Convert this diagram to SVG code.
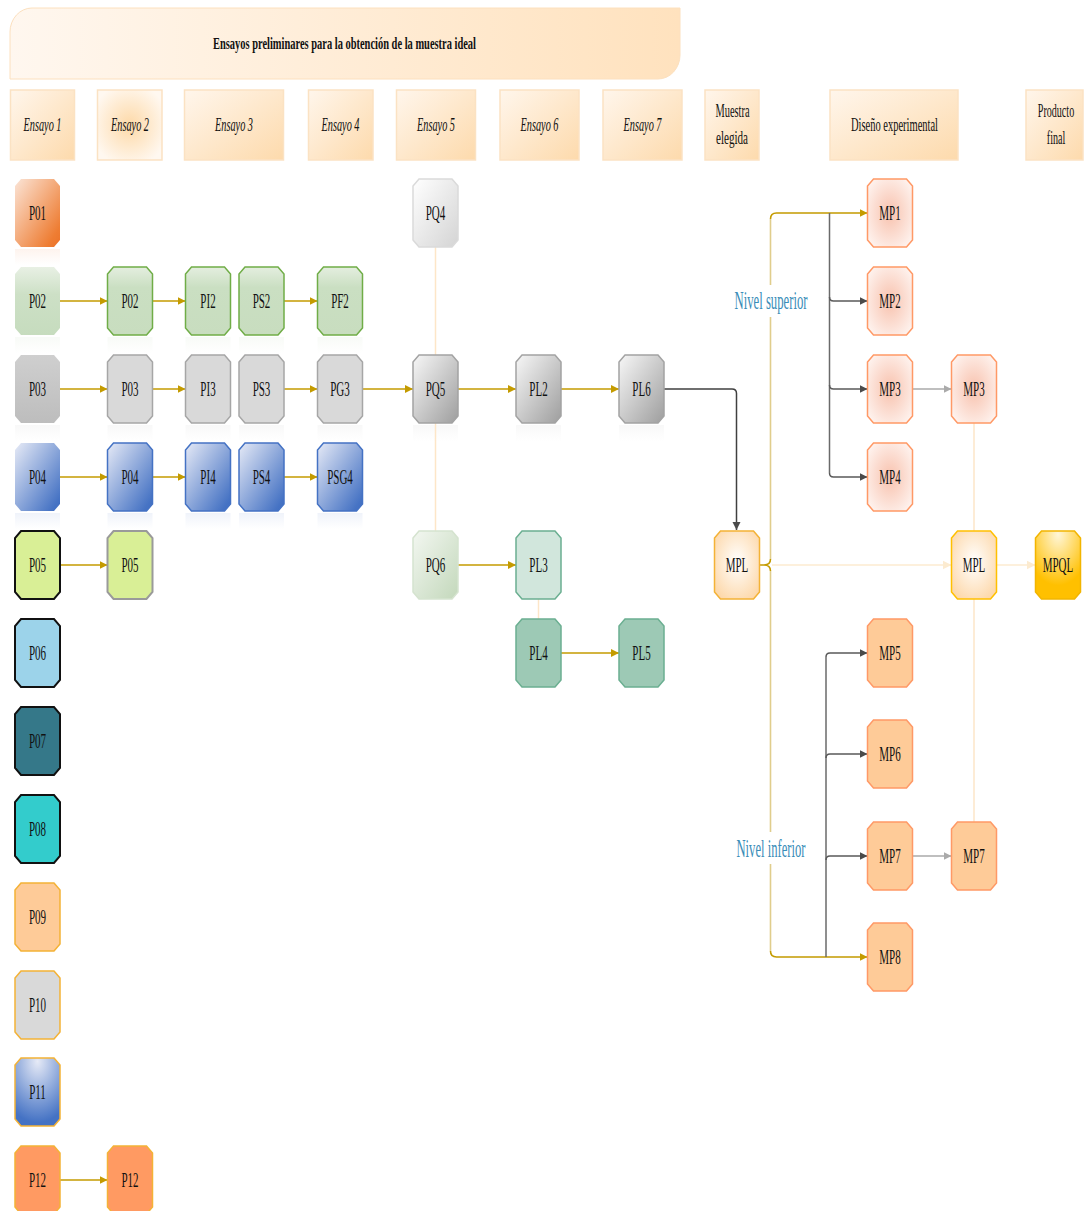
<svg xmlns="http://www.w3.org/2000/svg" xmlns:xlink="http://www.w3.org/1999/xlink" width="1084" height="1211" viewBox="0 0 1084 1211">
<defs>
<style>
.t{font-family:"Liberation Serif","Times New Roman",serif;font-size:20px;fill:#111;text-anchor:middle}
.h{font-family:"Liberation Serif","Times New Roman",serif;font-size:19px;fill:#111;text-anchor:middle}
.hi{font-style:italic}
.title{font-family:"Liberation Serif","Times New Roman",serif;font-size:17px;font-weight:bold;fill:#111;text-anchor:middle}
.lvl{font-family:"Liberation Serif","Times New Roman",serif;font-size:25px;fill:#3A8DB8;text-anchor:middle}
.hbox{fill:url(#gHead);stroke:#FBE2C3;stroke-width:1.5}
.hbox2{fill:url(#gHeadR);stroke:#FBE2C3;stroke-width:1.5}
.gold{fill:none;stroke:#C49B00;stroke-width:1.6;marker-end:url(#aGold)}
.goldn{fill:none;stroke:#C49B00;stroke-width:1.6}
.goldl{fill:none;stroke:#E0CD8C;stroke-width:1.6}
.dark{fill:none;stroke:#5A5A5A;stroke-width:1.5;marker-end:url(#aDark)}
.darkn{fill:none;stroke:#6A6A6A;stroke-width:1.5}
.lgray{fill:none;stroke:#AAAAAA;stroke-width:1.6;marker-end:url(#aGray)}
.faint{fill:none;stroke:#FDE6C8;stroke-width:1.5}
.faintA{fill:none;stroke:#FDF0DC;stroke-width:2;marker-end:url(#aFaint)}
.c-p01{fill:url(#gP01);stroke:none}
.c-p02a{fill:url(#gP02a);stroke:none}
.c-grn{fill:url(#gGrn);stroke:#70AD47;stroke-width:1.5}
.c-p03a{fill:url(#gP03a);stroke:none}
.c-gry{fill:#D9D9D9;stroke:#A6A6A6;stroke-width:1.5}
.c-blua{fill:url(#gBlue);stroke:none}
.c-blu{fill:url(#gBlue);stroke:#4472C4;stroke-width:1.5}
.c-p05a{fill:#D9EF96;stroke:#111;stroke-width:2}
.c-p05b{fill:#D9EF96;stroke:#9A9A9A;stroke-width:2}
.c-p06{fill:#9CD3EA;stroke:#111;stroke-width:2}
.c-p07{fill:#357889;stroke:#111;stroke-width:2}
.c-p08{fill:#33CCCC;stroke:#111;stroke-width:2}
.c-p09{fill:#FECB98;stroke:#F4B236;stroke-width:1.5}
.c-p10{fill:#D9D9D9;stroke:#F4B236;stroke-width:1.5}
.c-p11{fill:url(#gP11);stroke:#F4B236;stroke-width:1.5}
.c-p12{fill:#FF9A62;stroke:#F4B236;stroke-width:1.5}
.c-pq4{fill:url(#gPQ4);stroke:#DADADA;stroke-width:1.5}
.c-slv{fill:url(#gSlv);stroke:#A3A3A3;stroke-width:1.5}
.c-pq6{fill:url(#gPQ6);stroke:#D5E3CF;stroke-width:1.5}
.c-pl3{fill:#D1E6DC;stroke:#6BAF91;stroke-width:1.5}
.c-pl4{fill:#9DC9B5;stroke:#6BAF91;stroke-width:1.5}
.c-pink{fill:url(#gPink);stroke:#FF9966;stroke-width:1.5}
.c-mpl{fill:url(#gMPL);stroke:#F4B236;stroke-width:1.5}
.c-mpl2{fill:url(#gMPL);stroke:#FFC000;stroke-width:1.5}
.c-mpql{fill:url(#gMPQL);stroke:#F2B500;stroke-width:1.5}
.c-peach{fill:#FECB98;stroke:#FF9966;stroke-width:1.5}
</style>
<polygon id="oct" points="-16.5,-34 16.5,-34 22.5,-27 22.5,27 16.5,34 -16.5,34 -22.5,27 -22.5,-27"/>
<rect id="refl" x="-22.5" y="36" width="45" height="16"/>
<marker id="aGold" viewBox="0 0 10 10" refX="10" refY="5" markerWidth="8" markerHeight="9" markerUnits="userSpaceOnUse" orient="auto"><path d="M0,0 L10,5 L0,10 z" fill="#C49B00"/></marker>
<marker id="aDark" viewBox="0 0 10 10" refX="10" refY="5" markerWidth="8" markerHeight="9" markerUnits="userSpaceOnUse" orient="auto"><path d="M0,0 L10,5 L0,10 z" fill="#4A4A4A"/></marker>
<marker id="aGray" viewBox="0 0 10 10" refX="10" refY="5" markerWidth="8" markerHeight="9" markerUnits="userSpaceOnUse" orient="auto"><path d="M0,0 L10,5 L0,10 z" fill="#AAAAAA"/></marker>
<marker id="aFaint" viewBox="0 0 10 10" refX="10" refY="5" markerWidth="9" markerHeight="10" markerUnits="userSpaceOnUse" orient="auto"><path d="M0,0 L10,5 L0,10 z" fill="#FCEBD0"/></marker>
<linearGradient id="gBanner" x1="0" y1="0" x2="1" y2="0"><stop offset="0" stop-color="#FFF7EF"/><stop offset="1" stop-color="#FFE2BE"/></linearGradient>
<linearGradient id="gHead" x1="0" y1="0" x2="1" y2="1"><stop offset="0" stop-color="#FFF6EC"/><stop offset="1" stop-color="#FDDAAC"/></linearGradient>
<radialGradient id="gHeadR" cx="0.5" cy="0.5" r="0.6"><stop offset="0" stop-color="#FDD9A8"/><stop offset="1" stop-color="#FFF8F0"/></radialGradient>
<linearGradient id="gP01" x1="0" y1="0" x2="1" y2="1"><stop offset="0" stop-color="#FBE4D6"/><stop offset="0.85" stop-color="#EE7D33"/><stop offset="1" stop-color="#EC7228"/></linearGradient>
<linearGradient id="gP02a" x1="0" y1="0" x2="0" y2="1"><stop offset="0" stop-color="#E8F0E4"/><stop offset="0.4" stop-color="#CDE0C6"/><stop offset="1" stop-color="#C6DCBE"/></linearGradient>
<linearGradient id="gGrn" x1="0" y1="0" x2="0" y2="1"><stop offset="0" stop-color="#E4EEDF"/><stop offset="0.3" stop-color="#CADFC2"/><stop offset="1" stop-color="#C8DDBF"/></linearGradient>
<linearGradient id="gP03a" x1="0" y1="0" x2="0" y2="1"><stop offset="0" stop-color="#CFCFCF"/><stop offset="1" stop-color="#BDBDBD"/></linearGradient>
<linearGradient id="gBlue" x1="0" y1="0" x2="1" y2="1"><stop offset="0" stop-color="#E6EAF6"/><stop offset="0.9" stop-color="#4673C4"/><stop offset="1" stop-color="#3F6CC0"/></linearGradient>
<radialGradient id="gP11" cx="0.5" cy="0.05" r="1"><stop offset="0" stop-color="#E6EAF6"/><stop offset="0.9" stop-color="#4472C4"/></radialGradient>
<linearGradient id="gPQ4" x1="0" y1="0" x2="1" y2="1"><stop offset="0" stop-color="#FFFFFF"/><stop offset="1" stop-color="#D4D4D4"/></linearGradient>
<linearGradient id="gSlv" x1="0" y1="0" x2="1" y2="1"><stop offset="0" stop-color="#F7F7F7"/><stop offset="1" stop-color="#9E9E9E"/></linearGradient>
<linearGradient id="gPQ6" x1="0" y1="0" x2="1" y2="1"><stop offset="0" stop-color="#F3F7F1"/><stop offset="1" stop-color="#C3D8BB"/></linearGradient>
<radialGradient id="gPink" cx="0.5" cy="0.5" r="0.6"><stop offset="0" stop-color="#F8C2AE"/><stop offset="1" stop-color="#FEF1EC"/></radialGradient>
<radialGradient id="gMPL" cx="0.5" cy="0.45" r="0.65"><stop offset="0" stop-color="#FFFFFF"/><stop offset="1" stop-color="#FDD7A8"/></radialGradient>
<radialGradient id="gMPQL" cx="0.5" cy="0.05" r="1"><stop offset="0" stop-color="#FFF6D8"/><stop offset="0.75" stop-color="#FFC000"/></radialGradient>
<linearGradient id="rOr" x1="0" y1="0" x2="0" y2="1"><stop offset="0" stop-color="#F2A070" stop-opacity="0.12"/><stop offset="1" stop-color="#F2A070" stop-opacity="0"/></linearGradient>
<linearGradient id="rGr" x1="0" y1="0" x2="0" y2="1"><stop offset="0" stop-color="#A8C89C" stop-opacity="0.08"/><stop offset="1" stop-color="#A8C89C" stop-opacity="0"/></linearGradient>
<linearGradient id="rGy" x1="0" y1="0" x2="0" y2="1"><stop offset="0" stop-color="#AAAAAA" stop-opacity="0.08"/><stop offset="1" stop-color="#AAAAAA" stop-opacity="0"/></linearGradient>
<linearGradient id="rBl" x1="0" y1="0" x2="0" y2="1"><stop offset="0" stop-color="#7E9BD6" stop-opacity="0.12"/><stop offset="1" stop-color="#7E9BD6" stop-opacity="0"/></linearGradient>
</defs>
<rect width="1084" height="1211" fill="#FFFFFF"/>

<g id="header">
<path d="M10,32 A22,24 0 0 1 32,8 H680 V55 A22,24 0 0 1 658,79 H10 Z" fill="url(#gBanner)" stroke="#FCE0BE" stroke-width="1"/>
<text class="title" x="344.5" y="49" textLength="263" lengthAdjust="spacingAndGlyphs">Ensayos preliminares para la obtención de la muestra ideal</text>
</g>

<g id="col-headers">
<g id="h_e1"><rect class="hbox" x="10.5" y="90" width="64" height="70"/><text class="h hi" x="42.5" y="131" textLength="38" lengthAdjust="spacingAndGlyphs">Ensayo 1</text></g>
<g id="h_e2"><rect class="hbox2" x="97.5" y="90" width="64.5" height="70"/><text class="h hi" x="130" y="131" textLength="38" lengthAdjust="spacingAndGlyphs">Ensayo 2</text></g>
<g id="h_e3"><rect class="hbox" x="184.5" y="90" width="99" height="70"/><text class="h hi" x="234" y="131" textLength="38" lengthAdjust="spacingAndGlyphs">Ensayo 3</text></g>
<g id="h_e4"><rect class="hbox" x="308.5" y="90" width="64.5" height="70"/><text class="h hi" x="340.5" y="131" textLength="38" lengthAdjust="spacingAndGlyphs">Ensayo 4</text></g>
<g id="h_e5"><rect class="hbox" x="396.5" y="90" width="79" height="70"/><text class="h hi" x="436" y="131" textLength="38" lengthAdjust="spacingAndGlyphs">Ensayo 5</text></g>
<g id="h_e6"><rect class="hbox" x="500" y="90" width="79" height="70"/><text class="h hi" x="539.5" y="131" textLength="38" lengthAdjust="spacingAndGlyphs">Ensayo 6</text></g>
<g id="h_e7"><rect class="hbox" x="603" y="90" width="79" height="70"/><text class="h hi" x="642.5" y="131" textLength="38" lengthAdjust="spacingAndGlyphs">Ensayo 7</text></g>
<g id="h_me"><rect class="hbox" x="705" y="90" width="54" height="70"/><text class="h" x="732.5" y="117" textLength="34" lengthAdjust="spacingAndGlyphs">Muestra</text><text class="h" x="732" y="144" textLength="32" lengthAdjust="spacingAndGlyphs">elegida</text></g>
<g id="h_de"><rect class="hbox" x="830" y="90" width="128" height="70"/><text class="h" x="894.5" y="131" textLength="87" lengthAdjust="spacingAndGlyphs">Diseño experimental</text></g>
<g id="h_pf"><rect class="hbox" x="1026" y="90" width="57" height="70"/><text class="h" transform="translate(1056,117) scale(0.53,1)">Producto</text><text class="h" transform="translate(1056,144) scale(0.53,1)">final</text></g>
</g>

<g id="reflections">
<use href="#refl" x="37.5" y="213" fill="url(#rOr)"/>
<use href="#refl" x="37.5" y="301" fill="url(#rGr)"/>
<use href="#refl" x="130" y="301" fill="url(#rGr)"/>
<use href="#refl" x="208" y="301" fill="url(#rGr)"/>
<use href="#refl" x="261.5" y="301" fill="url(#rGr)"/>
<use href="#refl" x="340" y="301" fill="url(#rGr)"/>
<use href="#refl" x="37.5" y="389" fill="url(#rGy)"/>
<use href="#refl" x="130" y="389" fill="url(#rGy)"/>
<use href="#refl" x="208" y="389" fill="url(#rGy)"/>
<use href="#refl" x="261.5" y="389" fill="url(#rGy)"/>
<use href="#refl" x="340" y="389" fill="url(#rGy)"/>
<use href="#refl" x="435.5" y="389" fill="url(#rGy)"/>
<use href="#refl" x="538.5" y="389" fill="url(#rGy)"/>
<use href="#refl" x="641.5" y="389" fill="url(#rGy)"/>
<use href="#refl" x="37.5" y="477" fill="url(#rBl)"/>
<use href="#refl" x="130" y="477" fill="url(#rBl)"/>
<use href="#refl" x="208" y="477" fill="url(#rBl)"/>
<use href="#refl" x="261.5" y="477" fill="url(#rBl)"/>
<use href="#refl" x="340" y="477" fill="url(#rBl)"/>
</g>

<g id="connectors">
<path class="gold" d="M60,301 H107.5"/>
<path class="gold" d="M152.5,301 H185.5"/>
<path class="gold" d="M284,301 H317.5"/>
<path class="gold" d="M60,389 H107.5"/>
<path class="gold" d="M152.5,389 H185.5"/>
<path class="gold" d="M284,389 H317.5"/>
<path class="gold" d="M362.5,389 H413"/>
<path class="gold" d="M458,389 H516"/>
<path class="gold" d="M561,389 H619"/>
<path class="gold" d="M60,477 H107.5"/>
<path class="gold" d="M152.5,477 H185.5"/>
<path class="gold" d="M284,477 H317.5"/>
<path class="gold" d="M60,565 H107.5"/>
<path class="gold" d="M60,1180 H107.5"/>
<path class="gold" d="M458,565 H516"/>
<path class="gold" d="M561,653 H619"/>
<path class="faint" d="M435.5,247 V531"/>
<path class="faint" d="M538.5,599 V619"/>
<path class="faint" d="M974,423 V822"/>
<path fill="none" stroke="#404040" stroke-width="1.5" marker-end="url(#aDark)" d="M664,389 H732 Q736.5,389 736.5,393.5 V530"/>
<path class="goldl" d="M770.5,559 V219 M770.5,571 V951"/>
<path class="goldn" d="M759.5,565 H764 Q770.5,565 770.5,559 M764,565 Q770.5,565 770.5,571"/>
<path class="gold" d="M770.5,219 Q770.5,213 776.5,213 H867.5"/>
<path class="gold" d="M770.5,951 Q770.5,957 776.5,957 H867.5"/>
<path class="faintA" d="M772,565 H951.5"/>
<path class="faintA" d="M996.5,565 H1035.5"/>
<path class="darkn" d="M829.5,213 V473"/>
<path class="dark" d="M829.5,297 Q829.5,301 833.5,301 H867.5"/>
<path class="dark" d="M829.5,385 Q829.5,389 833.5,389 H867.5"/>
<path class="dark" d="M829.5,473 Q829.5,477 833.5,477 H867.5"/>
<path class="darkn" d="M826,957 V657"/>
<path class="dark" d="M826,657 Q826,653 830,653 H867.5"/>
<path class="dark" d="M826,758 Q826,754 830,754 H867.5"/>
<path class="dark" d="M826,860 Q826,856 830,856 H867.5"/>
<path class="lgray" d="M912.5,389 H951.5"/>
<path class="lgray" d="M912.5,856 H951.5"/>
</g>

<g id="labels">
<rect x="733" y="285" width="76" height="32" fill="#FFFFFF"/>
<text class="lvl" x="771" y="309" textLength="73" lengthAdjust="spacingAndGlyphs">Nivel superior</text>
<rect x="735" y="832" width="72" height="32" fill="#FFFFFF"/>
<text class="lvl" x="771" y="857" textLength="69" lengthAdjust="spacingAndGlyphs">Nivel inferior</text>
</g>

<g id="nodes">
<g id="n_P01" transform="translate(37.5,213)"><use href="#oct" class="c-p01"/><text class="t" y="6.5" transform="scale(0.55,1)">P01</text></g>
<g id="n_P02a" transform="translate(37.5,301)"><use href="#oct" class="c-p02a"/><text class="t" y="6.5" transform="scale(0.55,1)">P02</text></g>
<g id="n_P03a" transform="translate(37.5,389)"><use href="#oct" class="c-p03a"/><text class="t" y="6.5" transform="scale(0.55,1)">P03</text></g>
<g id="n_P04a" transform="translate(37.5,477)"><use href="#oct" class="c-blua"/><text class="t" y="6.5" transform="scale(0.55,1)">P04</text></g>
<g id="n_P05a" transform="translate(37.5,565)"><use href="#oct" class="c-p05a"/><text class="t" y="6.5" transform="scale(0.55,1)">P05</text></g>
<g id="n_P06" transform="translate(37.5,653)"><use href="#oct" class="c-p06"/><text class="t" y="6.5" transform="scale(0.55,1)">P06</text></g>
<g id="n_P07" transform="translate(37.5,741)"><use href="#oct" class="c-p07"/><text class="t" y="6.5" transform="scale(0.55,1)">P07</text></g>
<g id="n_P08" transform="translate(37.5,829)"><use href="#oct" class="c-p08"/><text class="t" y="6.5" transform="scale(0.55,1)">P08</text></g>
<g id="n_P09" transform="translate(37.5,917)"><use href="#oct" class="c-p09"/><text class="t" y="6.5" transform="scale(0.55,1)">P09</text></g>
<g id="n_P10" transform="translate(37.5,1005)"><use href="#oct" class="c-p10"/><text class="t" y="6.5" transform="scale(0.55,1)">P10</text></g>
<g id="n_P11" transform="translate(37.5,1092)"><use href="#oct" class="c-p11"/><text class="t" y="6.5" transform="scale(0.55,1)">P11</text></g>
<g id="n_P12a" transform="translate(37.5,1180)"><use href="#oct" class="c-p12"/><text class="t" y="6.5" transform="scale(0.55,1)">P12</text></g>

<g id="n_P02b" transform="translate(130,301)"><use href="#oct" class="c-grn"/><text class="t" y="6.5" transform="scale(0.55,1)">P02</text></g>
<g id="n_PI2" transform="translate(208,301)"><use href="#oct" class="c-grn"/><text class="t" y="6.5" transform="scale(0.55,1)">PI2</text></g>
<g id="n_PS2" transform="translate(261.5,301)"><use href="#oct" class="c-grn"/><text class="t" y="6.5" transform="scale(0.55,1)">PS2</text></g>
<g id="n_PF2" transform="translate(340,301)"><use href="#oct" class="c-grn"/><text class="t" y="6.5" transform="scale(0.55,1)">PF2</text></g>

<g id="n_P03b" transform="translate(130,389)"><use href="#oct" class="c-gry"/><text class="t" y="6.5" transform="scale(0.55,1)">P03</text></g>
<g id="n_PI3" transform="translate(208,389)"><use href="#oct" class="c-gry"/><text class="t" y="6.5" transform="scale(0.55,1)">PI3</text></g>
<g id="n_PS3" transform="translate(261.5,389)"><use href="#oct" class="c-gry"/><text class="t" y="6.5" transform="scale(0.55,1)">PS3</text></g>
<g id="n_PG3" transform="translate(340,389)"><use href="#oct" class="c-gry"/><text class="t" y="6.5" transform="scale(0.55,1)">PG3</text></g>

<g id="n_P04b" transform="translate(130,477)"><use href="#oct" class="c-blu"/><text class="t" y="6.5" transform="scale(0.55,1)">P04</text></g>
<g id="n_PI4" transform="translate(208,477)"><use href="#oct" class="c-blu"/><text class="t" y="6.5" transform="scale(0.55,1)">PI4</text></g>
<g id="n_PS4" transform="translate(261.5,477)"><use href="#oct" class="c-blu"/><text class="t" y="6.5" transform="scale(0.55,1)">PS4</text></g>
<g id="n_PSG4" transform="translate(340,477)"><use href="#oct" class="c-blu"/><text class="t" y="6.5" transform="scale(0.55,1)">PSG4</text></g>

<g id="n_P05b" transform="translate(130,565)"><use href="#oct" class="c-p05b"/><text class="t" y="6.5" transform="scale(0.55,1)">P05</text></g>
<g id="n_P12b" transform="translate(130,1180)"><use href="#oct" class="c-p12"/><text class="t" y="6.5" transform="scale(0.55,1)">P12</text></g>

<g id="n_PQ4" transform="translate(435.5,213)"><use href="#oct" class="c-pq4"/><text class="t" y="6.5" transform="scale(0.55,1)">PQ4</text></g>
<g id="n_PQ5" transform="translate(435.5,389)"><use href="#oct" class="c-slv"/><text class="t" y="6.5" transform="scale(0.55,1)">PQ5</text></g>
<g id="n_PQ6" transform="translate(435.5,565)"><use href="#oct" class="c-pq6"/><text class="t" y="6.5" transform="scale(0.55,1)">PQ6</text></g>
<g id="n_PL2" transform="translate(538.5,389)"><use href="#oct" class="c-slv"/><text class="t" y="6.5" transform="scale(0.55,1)">PL2</text></g>
<g id="n_PL3" transform="translate(538.5,565)"><use href="#oct" class="c-pl3"/><text class="t" y="6.5" transform="scale(0.55,1)">PL3</text></g>
<g id="n_PL4" transform="translate(538.5,653)"><use href="#oct" class="c-pl4"/><text class="t" y="6.5" transform="scale(0.55,1)">PL4</text></g>
<g id="n_PL6" transform="translate(641.5,389)"><use href="#oct" class="c-slv"/><text class="t" y="6.5" transform="scale(0.55,1)">PL6</text></g>
<g id="n_PL5" transform="translate(641.5,653)"><use href="#oct" class="c-pl4"/><text class="t" y="6.5" transform="scale(0.55,1)">PL5</text></g>

<g id="n_MPL1" transform="translate(737,565)"><use href="#oct" class="c-mpl"/><text class="t" y="6.5" transform="scale(0.55,1)">MPL</text></g>

<g id="n_MP1" transform="translate(890,213)"><use href="#oct" class="c-pink"/><text class="t" y="6.5" transform="scale(0.55,1)">MP1</text></g>
<g id="n_MP2" transform="translate(890,301)"><use href="#oct" class="c-pink"/><text class="t" y="6.5" transform="scale(0.55,1)">MP2</text></g>
<g id="n_MP3" transform="translate(890,389)"><use href="#oct" class="c-pink"/><text class="t" y="6.5" transform="scale(0.55,1)">MP3</text></g>
<g id="n_MP4" transform="translate(890,477)"><use href="#oct" class="c-pink"/><text class="t" y="6.5" transform="scale(0.55,1)">MP4</text></g>
<g id="n_MP5" transform="translate(890,653)"><use href="#oct" class="c-peach"/><text class="t" y="6.5" transform="scale(0.55,1)">MP5</text></g>
<g id="n_MP6" transform="translate(890,754)"><use href="#oct" class="c-peach"/><text class="t" y="6.5" transform="scale(0.55,1)">MP6</text></g>
<g id="n_MP7" transform="translate(890,856)"><use href="#oct" class="c-peach"/><text class="t" y="6.5" transform="scale(0.55,1)">MP7</text></g>
<g id="n_MP8" transform="translate(890,957)"><use href="#oct" class="c-peach"/><text class="t" y="6.5" transform="scale(0.55,1)">MP8</text></g>

<g id="n_MP3b" transform="translate(974,389)"><use href="#oct" class="c-pink"/><text class="t" y="6.5" transform="scale(0.55,1)">MP3</text></g>
<g id="n_MPL2" transform="translate(974,565)"><use href="#oct" class="c-mpl2"/><text class="t" y="6.5" transform="scale(0.55,1)">MPL</text></g>
<g id="n_MP7b" transform="translate(974,856)"><use href="#oct" class="c-peach"/><text class="t" y="6.5" transform="scale(0.55,1)">MP7</text></g>
<g id="n_MPQL" transform="translate(1058,565)"><use href="#oct" class="c-mpql"/><text class="t" y="6.5" transform="scale(0.55,1)">MPQL</text></g>
</g>
</svg>
